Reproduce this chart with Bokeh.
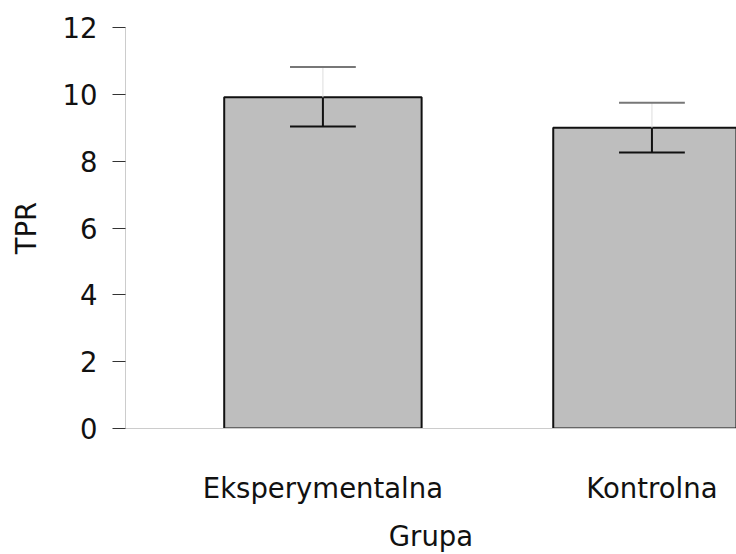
from bokeh.plotting import figure
from bokeh.models import Range1d, FixedTicker
from bokeh.embed import file_html
from bokeh.resources import INLINE

groups = ["Eksperymentalna", "Kontrolna"]
positions = [1, 2]
means = [9.91, 9.00]
lower = [9.04, 8.26]
upper = [10.82, 9.75]
y_ticks = [0, 2, 4, 6, 8, 10, 12]
x_title = "Grupa"
y_title = "TPR"

FONT = "DejaVu Sans"
FS = "27.5px"

p = figure(width=736, height=554, output_backend="svg", toolbar_location=None,
           x_range=Range1d(0.4, 2.257), y_range=Range1d(0, 12),
           min_border_left=125, min_border_right=0, min_border_top=27,
           min_border_bottom=125)
p.outline_line_color = None
p.grid.visible = False
p.background_fill_color = "white"
p.border_fill_color = "white"

bar_w = 0.6
cap = 0.1
p.vbar(x=positions, top=means, bottom=0, width=bar_w,
       fill_color="#bebebe", line_color="#111111", line_width=2)

lx0 = [x - cap for x in positions]
lx1 = [x + cap for x in positions]
# lower part of error bar (inside bar)
p.segment(x0=positions, y0=means, x1=positions, y1=lower, line_color="#111111", line_width=2)
p.segment(x0=lx0, y0=lower, x1=lx1, y1=lower, line_color="#111111", line_width=2)
# upper part (faint)
p.segment(x0=positions, y0=means, x1=positions, y1=upper, line_color="#dddddd", line_width=1)
p.segment(x0=lx0, y0=upper, x1=lx1, y1=upper, line_color="#777777", line_width=2)

# y axis
ya = p.yaxis[0]
ya.ticker = FixedTicker(ticks=y_ticks)
ya.axis_line_color = "#cccccc"
ya.major_tick_line_color = "#333333"
ya.major_tick_out = 13
ya.major_tick_in = 0
ya.minor_tick_out = 0
ya.minor_tick_in = 0
ya.major_label_standoff = 15
ya.major_label_text_font = FONT
ya.major_label_text_font_size = FS
ya.major_label_text_color = "#111111"
ya.axis_label = y_title
ya.axis_label_text_font = FONT
ya.axis_label_text_font_size = FS
ya.axis_label_text_font_style = "normal"
ya.axis_label_text_color = "#111111"
ya.axis_label_standoff = 18

# x axis
xa = p.xaxis[0]
xa.ticker = FixedTicker(ticks=positions)
xa.major_label_overrides = {pos: g for pos, g in zip(positions, groups)}
xa.axis_line_color = "#cccccc"
xa.major_tick_out = 0
xa.major_tick_in = 0
xa.minor_tick_out = 0
xa.minor_tick_in = 0
xa.major_label_standoff = 43
xa.major_label_text_font = FONT
xa.major_label_text_font_size = FS
xa.major_label_text_color = "#111111"
xa.axis_label = x_title
xa.axis_label_text_font = FONT
xa.axis_label_text_font_size = FS
xa.axis_label_text_font_style = "normal"
xa.axis_label_text_color = "#111111"
xa.axis_label_standoff = 13

open("out.html", "w").write(file_html(p, INLINE))
